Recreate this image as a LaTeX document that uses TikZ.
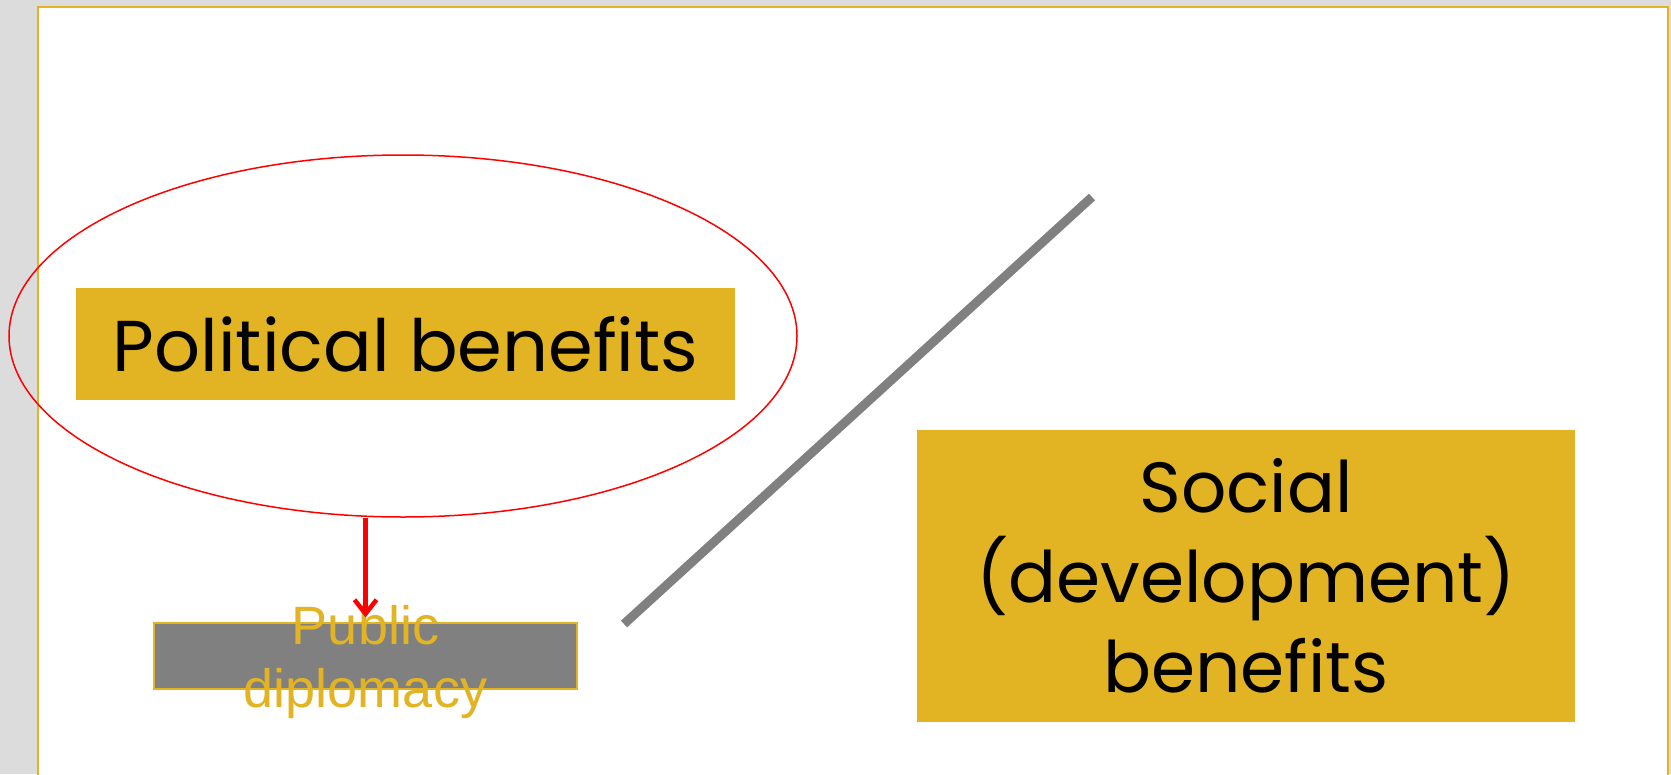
\documentclass[tikz,border=0pt]{standalone}
\usepackage{fontspec}
\newfontfamily\gothic{Poppins}
\newfontfamily\arialfont{Liberation Sans}
\usetikzlibrary{arrows.meta}
\usetikzlibrary{shapes.geometric}
\definecolor{slidegold}{RGB}{226,179,35}
\definecolor{slidegray}{RGB}{128,128,128}
\definecolor{deskgray}{RGB}{220,220,220}

\begin{document}
\begin{tikzpicture}[x=1pt,y=-1pt,
	goldbox/.style={fill=slidegold, inner sep=0pt, font=\gothic, text=black},
	pdbox/.style={draw=slidegold, line width=1.2pt, fill=slidegray, minimum width=423pt, minimum height=66pt, inner sep=0pt}]
	\useasboundingbox (0,0) rectangle (1671,774);
	\fill[deskgray] (0,0) rectangle (1671,774);
	\filldraw[draw=slidegold, fill=white, line width=2.5pt] (38,7) rectangle (1668,800);
	% boxes
	\node[goldbox, minimum width=659pt, minimum height=112pt, font=\gothic\fontsize{72}{80}\selectfont] (pol) at (405.5,344) {Political benefits};
	\node[goldbox, minimum width=658pt, minimum height=292pt, align=center, font=\gothic\fontsize{71}{90}\selectfont] (soc) at (1246,576) {Social\\(development)\\benefits};
	\node[pdbox] (pd) at (365.5,656) {};
	\node[text=slidegold, inner sep=0pt, align=center, font=\arialfont\fontsize{54}{63}\selectfont] (pdtext) at (365.5,662.5) {Public\\diplomacy};
	\node[draw=red, line width=1.5pt, ellipse, minimum width=788pt, minimum height=362pt, inner sep=0pt] (el) at (403,336) {};
	% separator
	\coordinate (sepA) at (624,624);
	\coordinate (sepB) at (1092,197);
	\draw[slidegray, line width=9pt] (sepA) -- (sepB);
	% arrow
	\draw[red, line width=4.5pt, -{Straight Barb[length=14pt,width=22pt]}] (el.south -| pd.north) -- ([yshift=5pt]pd.north);
\end{tikzpicture}
\end{document}
